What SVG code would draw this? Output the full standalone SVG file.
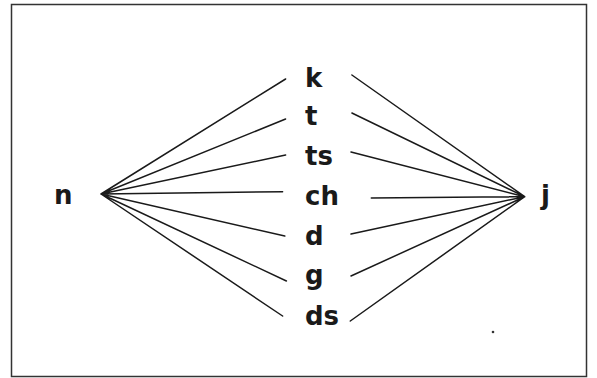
<svg xmlns="http://www.w3.org/2000/svg" width="597" height="378" viewBox="0 0 597 378">
<style>
.lbl{font-family:"DejaVu Sans",sans-serif;font-weight:700;font-size:26px;fill:#1a1a1a}
.ln{stroke:#1a1a1a;stroke-width:1.5;fill:none;stroke-linecap:round}
</style>
<rect x="0" y="0" width="597" height="378" fill="#ffffff"/>
<rect x="11.5" y="4.5" width="575" height="372" fill="none" stroke="#333" stroke-width="1.5"/>
<g id="connectors">
<path class="ln" d="M101 194 L285.6 79 M101 194 L285.6 119 M101 194 L285.6 155 M101 194 L282.6 191.7 M101 194 L284.8 236 M101 194 L286.4 281 M101 194 L282.6 316"/>
<path class="ln" d="M524.7 196.7 L351.9 75 M524.7 196.7 L351.9 113 M524.7 196.7 L351 152 M524.7 196.7 L371.3 198 M524.7 196.7 L351 234 M524.7 196.7 L351 276 M524.7 196.7 L350.3 321"/>
</g>
<g id="node-n"><text class="lbl" x="54" y="204">n</text></g>
<g id="node-k"><text class="lbl" x="305" y="87">k</text></g>
<g id="node-t"><text class="lbl" x="305" y="125">t</text></g>
<g id="node-ts"><text class="lbl" x="305" y="165">ts</text></g>
<g id="node-ch"><text class="lbl" x="305" y="205">ch</text></g>
<g id="node-d"><text class="lbl" x="305" y="245">d</text></g>
<g id="node-g"><text class="lbl" x="305" y="284">g</text></g>
<g id="node-ds"><text class="lbl" x="305" y="325">ds</text></g>
<g id="node-j"><text class="lbl" x="541" y="204">j</text></g>
<circle cx="493" cy="332" r="1.3" fill="#333"/>
</svg>
